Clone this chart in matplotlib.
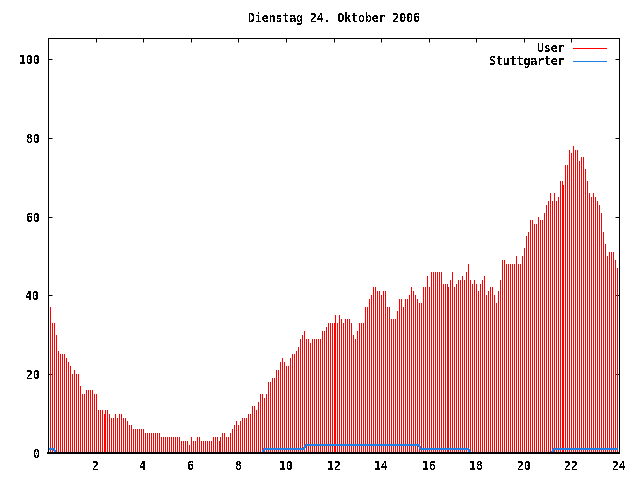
import matplotlib
matplotlib.use("Agg")
import matplotlib.pyplot as plt
from matplotlib.lines import Line2D
import numpy as np

plt.rcParams['font.family'] = ['DejaVu Sans Mono']
plt.rcParams['text.antialiased'] = False

TITLE = "Dienstag 24. Oktober 2006"
SERIES = ["User", "Stuttgarter"]
COLORS = ["#ff0000", "#1f80e8"]

# five-minute samples, hour = (i+1)/12
user_00_06 = [37, 33, 33, 30, 26, 25, 25, 25, 24, 23, 22, 20, 21, 20, 20, 17, 15, 15, 16, 16, 16, 16, 15, 15,
              11, 11, 11, 10, 11, 11, 10, 9, 9, 10, 9, 10, 10, 9, 9, 8, 7, 7, 6, 6, 6,
              6, 6, 6, 5, 5, 5, 5, 5, 5, 5, 5, 4, 4, 4, 4, 4, 4, 4, 4, 4, 4, 3, 3, 3, 3, 2, 4]
user_06_12 = [3, 3, 4, 4, 3, 3, 3, 3, 3, 3, 4,
              4, 4, 3, 4, 5, 5, 4, 4, 5, 6, 7, 8, 7, 8, 9, 9, 9,
              10, 10, 12, 12, 11, 13, 15, 15, 14, 15, 18, 18, 19, 19, 21, 21, 23, 24, 23, 22, 22, 24, 25, 25,
              26, 27, 29, 30, 31, 29, 29, 28, 29, 29, 29, 29, 29, 31, 31,
              32, 33, 33, 33, 33]
user_12_18 = [35, 33, 35, 34, 33, 34, 34, 34, 33, 30, 29, 31, 33, 33, 33, 37, 37, 39, 40, 42, 42, 41, 41,
              40, 41, 41, 37, 37, 34, 34, 34, 36, 39, 39, 37, 39, 39, 40, 42, 41, 40, 39, 38, 38, 42,
              42, 45, 42, 46, 46, 46, 46, 46, 46, 43, 43, 43, 42, 44, 46, 42, 43, 44, 44, 45, 44, 46, 48,
              44, 43, 44, 43]
user_18_24 = [41, 43, 44, 45, 40, 41, 42, 42, 40, 38, 41, 44, 49, 49, 48, 48, 48, 48, 48,
              50, 48, 48, 50, 52, 55, 56, 59, 59, 58, 58, 60, 59, 59, 61, 63, 64, 66, 64, 66, 64, 65, 69, 69,
              68, 73, 73, 77, 76, 78, 77, 77, 74, 75, 75, 72, 69, 66, 65, 66, 65, 64, 63, 61, 56, 53, 50, 51,
              51, 51, 49, 47]

stutt_00_06 = [1, 1, 1, 0, 0, 0, 0, 0, 0, 0, 0, 0, 0, 0, 0, 0, 0, 0, 0, 0, 0, 0, 0, 0,
               0, 0, 0, 0, 0, 0, 0, 0, 0, 0, 0, 0, 0, 0, 0, 0, 0, 0, 0, 0, 0, 0, 0, 0,
               0, 0, 0, 0, 0, 0, 0, 0, 0, 0, 0, 0, 0, 0, 0, 0, 0, 0, 0, 0, 0, 0, 0, 0]
stutt_06_12 = [0, 0, 0, 0, 0, 0, 0, 0, 0, 0, 0, 0, 0, 0, 0, 0, 0, 0, 0, 0, 0, 0, 0, 0,
               0, 0, 0, 0, 0, 0, 0, 0, 0, 0, 0, 0, 1, 1, 1, 1, 1, 1, 1, 1, 1, 1, 1, 1,
               1, 1, 1, 1, 1, 1, 1, 1, 1, 2, 2, 2, 2, 2, 2, 2, 2, 2, 2, 2, 2, 2, 2, 2]
stutt_12_18 = [2, 2, 2, 2, 2, 2, 2, 2, 2, 2, 2, 2, 2, 2, 2, 2, 2, 2, 2, 2, 2, 2, 2, 2,
               2, 2, 2, 2, 2, 2, 2, 2, 2, 2, 2, 2, 2, 2, 2, 2, 2, 2, 2, 1, 1, 1, 1, 1,
               1, 1, 1, 1, 1, 1, 1, 1, 1, 1, 1, 1, 1, 1, 1, 1, 1, 1, 1, 1, 0, 0, 0, 0]
stutt_18_24 = [0, 0, 0, 0, 0, 0, 0, 0, 0, 0, 0, 0, 0, 0, 0, 0, 0, 0, 0, 0, 0, 0, 0, 0,
               0, 0, 0, 0, 0, 0, 0, 0, 0, 0, 0, 0, 0, 0, 1, 1, 1, 1, 1, 1, 1, 1, 1, 1,
               1, 1, 1, 1, 1, 1, 1, 1, 1, 1, 1, 1, 1, 1, 1, 1, 1, 1, 1, 1, 1, 1, 1]

xticks = [0, 2, 4, 6, 8, 10, 12, 14, 16, 18, 20, 22, 24]
xticklabels = ["", "2", "4", "6", "8", "10", "12", "14", "16", "18", "20", "22", "24"]
yticks = [0, 20, 40, 60, 80, 100]

user = np.array(user_00_06 + user_06_12 + user_12_18 + user_18_24, dtype=float)
stutt = np.array(stutt_00_06 + stutt_06_12 + stutt_12_18 + stutt_18_24, dtype=float)
hours = (np.arange(len(user)) + 1) / 12.0

fig = plt.figure(figsize=(6.4, 4.8), dpi=100)
L, R, B, T = 48.0, 619.0, 453.0, 38.0
ax = fig.add_axes([L / 640, (480 - B) / 480, (R - L) / 640, (B - T) / 480])

ax.vlines(hours, 0, user, colors=COLORS[0], linewidth=0.72, antialiased=False, zorder=2)
ax.plot(hours, stutt, color=COLORS[1], linewidth=0.72, antialiased=False, zorder=2.2)

ax.set_xlim(0, 24)
ax.set_ylim(0, 105.3)
ax.set_xticks(xticks)
ax.set_xticklabels(xticklabels)
ax.set_yticks(yticks)
ax.tick_params(direction='in', length=3.2, width=0.72, top=True, right=True,
               labelsize=8.3, colors='black')
ax.tick_params(axis='x', pad=5)
ax.tick_params(axis='y', pad=6)
for lab in ax.get_xticklabels() + ax.get_yticklabels():
    lab.set_fontweight('bold')
for name, sp in ax.spines.items():
    sp.set_linewidth(1.44 if name == 'bottom' else 0.72)
    sp.set_color('black')
    sp.set_antialiased(False)
    sp.set_zorder(3)

fig.text(333.5 / 640, 1 - 18.5 / 480, TITLE, ha='center', va='center',
         fontsize=8.3, fontweight='bold')

# legend (gnuplot style: right-aligned labels, sample line at right)
def ax_x(px):
    return (px - L) / (R - L)

def ax_y(py):
    return (B - py) / (B - T)

for k, (name, col) in enumerate(zip(SERIES, COLORS)):
    py = 48.3 + 13 * k
    ax.text(ax_x(565), ax_y(py), name, transform=ax.transAxes, ha='right', va='center',
            fontsize=8.3, fontweight='bold')
    ax.add_line(Line2D([ax_x(573), ax_x(606)], [ax_y(py), ax_y(py)], transform=ax.transAxes,
                       color=col, linewidth=0.72, antialiased=False, clip_on=False))

fig.savefig("out.png", dpi=100)
